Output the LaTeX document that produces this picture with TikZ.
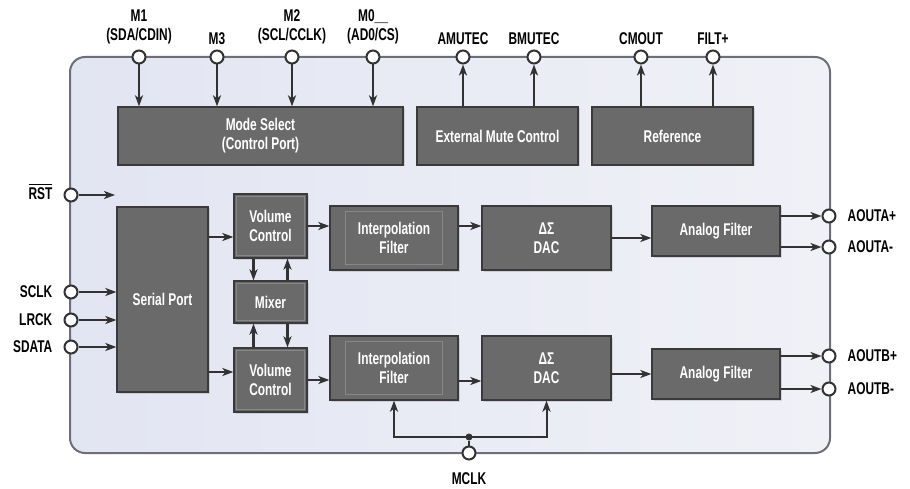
\documentclass[tikz,border=0pt]{standalone}
\usepackage{fontspec}
\setmainfont[FakeStretch=0.7]{Liberation Sans}
\usepackage{xcolor}
\usetikzlibrary{arrows.meta,calc,positioning,shadows}
\definecolor{blockgray}{RGB}{106,106,106}
\definecolor{blockedge}{RGB}{58,58,58}
\definecolor{wire}{RGB}{50,50,50}
\definecolor{chipedge}{RGB}{110,110,118}
\definecolor{chipleft}{RGB}{226,229,242}
\definecolor{chipright}{RGB}{240,241,247}
\newcommand{\barsig}[1]{\vbox{\hrule height 1.2pt\kern 2.5pt\hbox{#1}}}

\begin{document}
\begin{tikzpicture}[x=1pt,y=-1pt,>={Stealth[length=11pt,width=8pt,inset=3pt]},
  font=\fontsize{17}{19}\selectfont\bfseries,
  block/.style={draw=blockedge,line width=1.3pt,fill=blockgray,text=white,align=center,inner sep=0pt,
    drop shadow={opacity=0.25,shadow xshift=1.5pt,shadow yshift=-1.5pt}},
  pin/.style={circle,draw=wire,line width=2pt,fill=white,minimum size=13pt,inner sep=0pt},
  lbl/.style={inner sep=1pt,text=black,align=center},
  sig/.style={->,draw=wire,line width=2.6pt},
  clk/.style={->,draw=wire,line width=2pt},
  inner/.style={draw=white,opacity=0.2,line width=0.6pt}]
  \useasboundingbox (0,0) rectangle (910,489);

  % chip body
  \node[draw=chipedge,line width=2pt,rounded corners=15pt,left color=chipleft,right color=chipright,
    minimum width=760,minimum height=396,inner sep=0pt] (chip) at (450,255) {};

  % blocks
  \node[block,minimum width=285,minimum height=58] (mode) at (260.5,136) {Mode Select\\(Control Port)};
  \node[block,minimum width=161,minimum height=58] (mute) at (497.5,136) {External Mute Control};
  \node[block,minimum width=161,minimum height=58] (ref) at (672.5,136) {Reference};
  \node[block,minimum width=91,minimum height=185] (serial) at (162.5,299.5) {Serial Port};
  \node[block,minimum width=73,minimum height=64] (vcA) at (270.5,226) {Volume\\Control};
  \node[block,minimum width=73,minimum height=42] (mixer) at (270.5,302) {Mixer};
  \node[block,minimum width=73,minimum height=64] (vcB) at (270.5,380) {Volume\\Control};
  \node[block,minimum width=128,minimum height=64] (intA) at (394,238) {Interpolation\\Filter};
  \node[block,minimum width=128,minimum height=64] (intB) at (394,368) {Interpolation\\Filter};
  \node[block,minimum width=129,minimum height=64] (dacA) at (546.5,238) {ΔΣ\\DAC};
  \node[block,minimum width=129,minimum height=64] (dacB) at (546.5,368) {ΔΣ\\DAC};
  \node[block,minimum width=128,minimum height=50] (afA) at (716,231) {Analog Filter};
  \node[block,minimum width=128,minimum height=50] (afB) at (716,374) {Analog Filter};
  \foreach \b in {intA,intB}
    \draw[inner] ([xshift=16pt,yshift=-6pt]\b.north west) rectangle ([xshift=-16pt,yshift=6pt]\b.south east);
  \foreach \b in {vcA,vcB,mixer}
    \draw[inner] ([xshift=3pt,yshift=-3pt]\b.north west) rectangle ([xshift=-3pt,yshift=3pt]\b.south east);

  % pins
  \foreach \n/\x in {pMone/139,pMthree/217,pMtwo/292,pMzero/373,pAmute/463,pBmute/534,pCmout/641,pFilt/713}
    \node[pin] (\n) at (\x,57) {};
  \foreach \n/\y in {pRst/195,pSclk/292,pLrck/320,pSdata/347}
    \node[pin] (\n) at (71,\y) {};
  \foreach \n/\y in {pAoutAp/216,pAoutAm/247,pAoutBp/356,pAoutBm/389}
    \node[pin] (\n) at (829,\y) {};
  \node[pin] (pMclk) at (469,453) {};
  \node[circle,fill=wire,minimum size=7pt,inner sep=0pt] (jn) at (469,437) {};
  \coordinate (rstend) at (115,195);
  \coordinate (vcAin) at ([yshift=-11pt]vcA.west);
  \coordinate (vcBin) at ([yshift=8pt]vcB.west);
  \coordinate (intAout) at ([yshift=12pt]intA.east);
  \coordinate (intBout) at ([yshift=-13pt]intB.east);

  % pin labels
  \node[lbl,above=4pt of pMone] {M1\\(SDA/CDIN)};
  \node[lbl,above=4pt of pMthree] {M3};
  \node[lbl,above=4pt of pMtwo] {M2\\(SCL/CCLK)};
  \node[lbl,above=4pt of pMzero] {M0\_\_\\(AD0/CS)};
  \node[lbl,above=4pt of pAmute] {AMUTEC};
  \node[lbl,above=4pt of pBmute] {BMUTEC};
  \node[lbl,above=4pt of pCmout] {CMOUT};
  \node[lbl,above=4pt of pFilt] {FILT+};
  \node[lbl,left=10pt of pRst,yshift=3pt] {\barsig{RST}};
  \node[lbl,left=10pt of pSclk] {SCLK};
  \node[lbl,left=10pt of pLrck] {LRCK};
  \node[lbl,left=10pt of pSdata] {SDATA};
  \node[lbl,right=10pt of pAoutAp] {AOUTA+};
  \node[lbl,right=10pt of pAoutAm] {AOUTA-};
  \node[lbl,right=10pt of pAoutBp] {AOUTB+};
  \node[lbl,right=10pt of pAoutBm] {AOUTB-};
  \node[lbl,below=11pt of pMclk] {MCLK};

  % control connections
  \foreach \p in {pMone,pMthree,pMtwo,pMzero}
    \draw[sig] (\p) -- (\p |- mode.north);
  \foreach \p in {pAmute,pBmute}
    \draw[sig] (mute.north -| \p) -- (\p);
  \foreach \p in {pCmout,pFilt}
    \draw[sig] (ref.north -| \p) -- (\p);
  \draw[sig] (pRst) -- (rstend);
  \foreach \p in {pSclk,pLrck,pSdata}
    \draw[sig] (\p) -- (\p -| serial.west);

  % channel A
  \draw[sig] (serial.east |- vcAin) -- (vcAin);
  \draw[sig] (vcA.east) -- (vcA.east -| intA.west);
  \draw[sig] (intAout) -- (intAout -| dacA.west);
  \draw[sig] (dacA.east) -- (dacA.east -| afA.west);
  \draw[sig] (afA.east |- pAoutAp) -- (pAoutAp);
  \draw[sig] (afA.east |- pAoutAm) -- (pAoutAm);

  % mixer
  \draw[sig] ([xshift=-17pt]vcA.south) -- ([xshift=-17pt]mixer.north);
  \draw[sig] ([xshift=17pt]mixer.north) -- ([xshift=17pt]vcA.south);
  \draw[sig] ([xshift=17pt]mixer.south) -- ([xshift=17pt]vcB.north);
  \draw[sig] ([xshift=-17pt]vcB.north) -- ([xshift=-17pt]mixer.south);

  % channel B
  \draw[sig] (serial.east |- vcBin) -- (vcBin);
  \draw[sig] (vcB.east) -- (vcB.east -| intB.west);
  \draw[sig] (intBout) -- (intBout -| dacB.west);
  \draw[sig] (afB.west -| dacB.east) -- (afB.west);
  \draw[sig] (afB.east |- pAoutBp) -- (pAoutBp);
  \draw[sig] (afB.east |- pAoutBm) -- (pAoutBm);

  % master clock
  \draw[draw=wire,line width=2pt] (pMclk) -- (jn);
  \draw[clk] (jn.center) -| (intB.south);
  \draw[clk] (jn.center) -| (dacB.south);
\end{tikzpicture}
\end{document}
